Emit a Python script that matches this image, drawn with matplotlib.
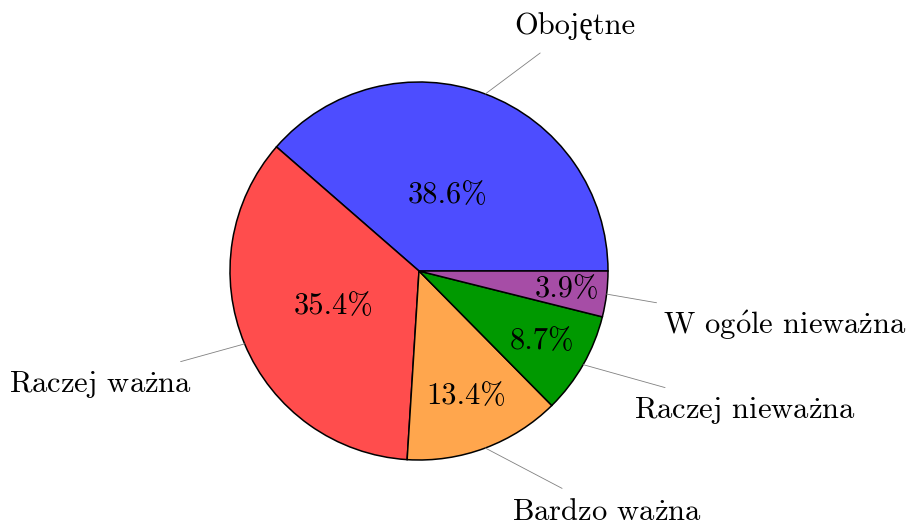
import matplotlib
matplotlib.use('Agg')
import matplotlib.pyplot as plt
import numpy as np

plt.rcParams['font.family'] = ['cmr10', 'Liberation Serif']
plt.rcParams['mathtext.fontset'] = 'cm'
plt.rcParams['axes.unicode_minus'] = False

categories = ['Obojętne', 'Raczej ważna', 'Bardzo ważna', 'Raczej nieważna', 'W ogóle nieważna']
values = [38.6, 35.4, 13.4, 8.7, 3.9]
colors = ['#4d4dff', '#ff4d4d', '#ffa64d', '#009900', '#a64da6']

W, H = 910, 527
fig = plt.figure(figsize=(9.1, 5.27), dpi=100)
ax = fig.add_axes([0, 0, 1, 1])
cx, cy, R = 419, H - 271, 189
wedges, _ = ax.pie(values, colors=colors, startangle=0, counterclock=True,
                   center=(cx, cy), radius=R, frame=True,
                   wedgeprops=dict(edgecolor='black', linewidth=1.1))
ax.set_xlim(0, W)
ax.set_ylim(0, H)
ax.set_aspect('equal')
ax.axis('off')

label_pos = [(575, 27), (100, 384), (607, 512), (745, 410), (785, 325)]
pct_dist = [0.43, 0.49, 0.71, 0.75, 0.79]
fs = 22

def tex(s):
    return (s.replace('ż', r'$\mathrm{\dot{z}}$')
             .replace('ó', r'$\mathrm{\acute{o}}$'))

for w, cat, val, (lx, ly), pd in zip(wedges, categories, values, label_pos, pct_dist):
    mid = np.deg2rad((w.theta1 + w.theta2) / 2)
    ex, ey = cx + R * np.cos(mid), cy + R * np.sin(mid)
    ax.annotate(tex(cat), xy=(ex, ey), xytext=(lx, H - ly), ha='center', va='center',
                fontsize=fs,
                arrowprops=dict(arrowstyle='-', color='#808080', lw=0.6,
                                shrinkA=11, shrinkB=0))
    ax.text(cx + pd * R * np.cos(mid), cy + pd * R * np.sin(mid), f'{val:.1f}%',
            ha='center', va='center', fontsize=fs)

fig.savefig('out.png', dpi=100)
